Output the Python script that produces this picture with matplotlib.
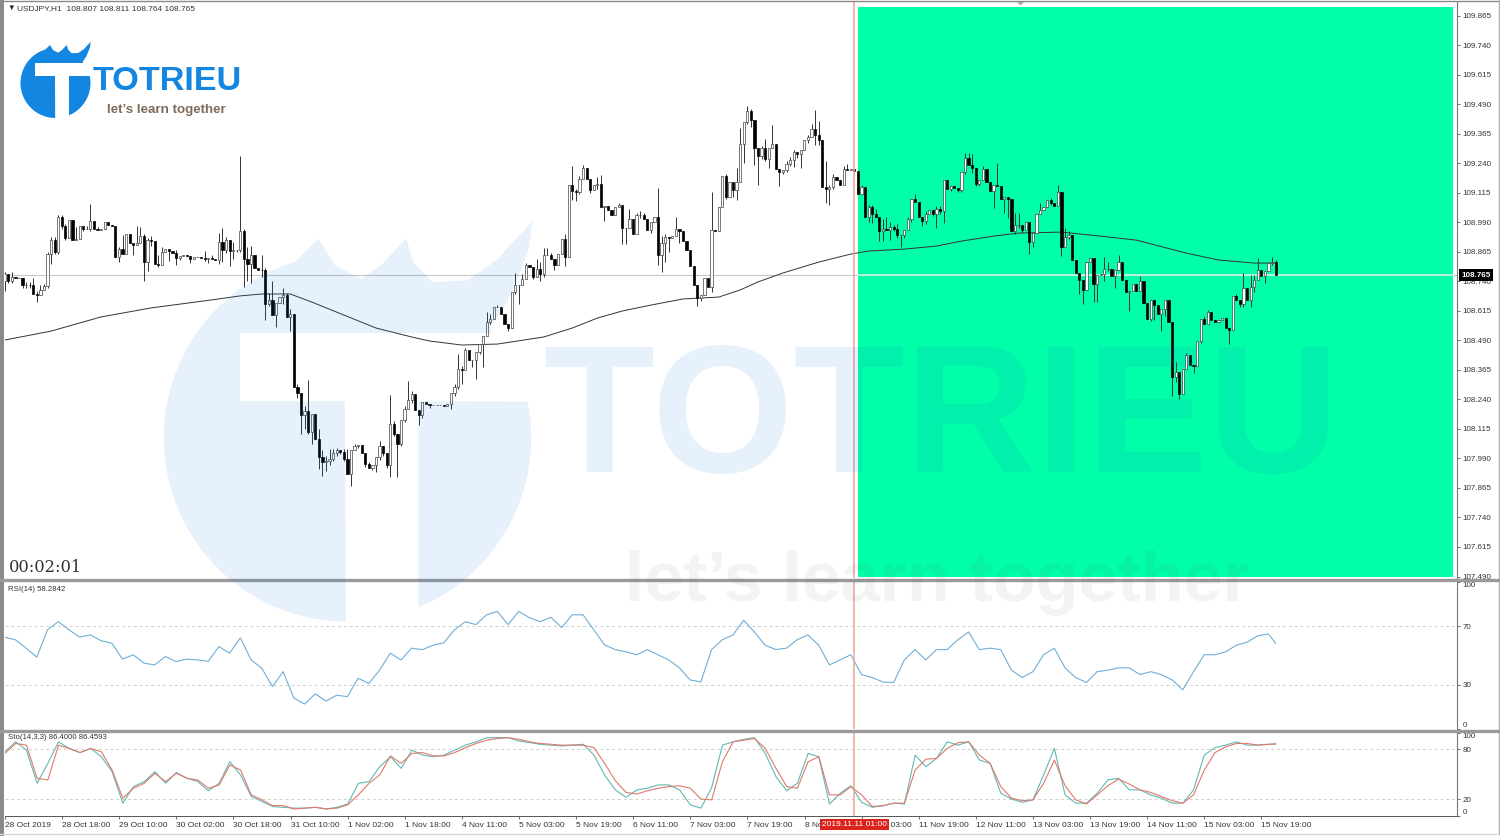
import numpy as np
import matplotlib
matplotlib.use('Agg')
import matplotlib.pyplot as plt
from matplotlib.patches import Polygon, Rectangle

plt.rcParams['font.family'] = ['Liberation Sans', 'DejaVu Sans']
plt.rcParams['font.size'] = 6

W, H = 1500, 836

# hourly closes, one per bar
first_open = 108.740
closes = [
    108.769, 108.741, 108.758, 108.755, 108.753, 108.723, 108.726, 108.723, 108.688, 108.681,
    108.702, 108.720, 108.854, 108.916, 108.864, 109.012, 108.973, 108.925, 109.001, 108.916,
    108.919, 108.975, 108.963, 108.963, 108.995, 108.961, 108.958, 108.961, 108.989, 108.977,
    108.975, 108.843, 108.877, 108.857, 108.939, 108.902, 108.892, 108.903, 108.930, 108.822,
    108.913, 108.910, 108.812, 108.809, 108.863, 108.875, 108.867, 108.861, 108.840, 108.848,
    108.850, 108.848, 108.836, 108.843, 108.843, 108.840, 108.836, 108.840, 108.836, 108.832,
    108.906, 108.871, 108.916, 108.866, 108.874, 108.874, 108.952, 108.835, 108.811, 108.850,
    108.797, 108.789, 108.786, 108.645, 108.662, 108.596, 108.648, 108.673, 108.680, 108.589,
    108.603, 108.293, 108.267, 108.173, 108.191, 108.102, 108.180, 108.074, 107.997, 107.975,
    107.980, 107.989, 108.011, 108.025, 108.018, 107.989, 107.923, 108.025, 108.042, 108.046,
    108.013, 107.965, 107.951, 107.961, 107.994, 108.042, 108.011, 107.961, 108.137, 108.095,
    108.053, 108.152, 108.201, 108.236, 108.264, 108.194, 108.173, 108.229, 108.219, 108.215,
    108.215, 108.215, 108.215, 108.211, 108.220, 108.265, 108.293, 108.370, 108.363, 108.448,
    108.406, 108.408, 108.441, 108.476, 108.507, 108.568, 108.582, 108.631, 108.631, 108.603,
    108.561, 108.540, 108.695, 108.723, 108.723, 108.751, 108.808, 108.800, 108.758, 108.793,
    108.769, 108.850, 108.850, 108.836, 108.808, 108.854, 108.920, 108.843, 109.146, 109.122,
    109.118, 109.174, 109.221, 109.174, 109.125, 109.149, 109.150, 109.054, 109.057, 109.040,
    109.019, 109.054, 109.061, 108.967, 108.967, 109.005, 108.941, 109.019, 109.019, 109.005,
    108.956, 108.991, 109.013, 108.850, 108.900, 108.928, 108.925, 108.931, 108.963, 108.953,
    108.911, 108.871, 108.804, 108.723, 108.667, 108.681, 108.752, 108.716, 108.956, 108.953,
    109.055, 109.185, 109.097, 109.161, 109.125, 109.161, 109.320, 109.414, 109.461, 109.421,
    109.302, 109.269, 109.302, 109.259, 109.302, 109.323, 109.217, 109.203, 109.213, 109.238,
    109.255, 109.287, 109.280, 109.294, 109.337, 109.351, 109.386, 109.358, 109.337, 109.137,
    109.132, 109.139, 109.182, 109.170, 109.146, 109.217, 109.210, 109.217, 109.207, 109.108,
    109.139, 109.012, 109.054, 109.026, 109.012, 108.951, 108.963, 108.955, 108.970, 108.963,
    108.934, 108.934, 108.955, 109.002, 109.089, 109.075, 109.012, 108.994, 109.026, 109.040,
    109.026, 109.047, 109.036, 109.167, 109.132, 109.143, 109.135, 109.127, 109.202, 109.261,
    109.230, 109.219, 109.153, 109.167, 109.216, 109.160, 109.120, 109.149, 109.143, 109.089,
    109.096, 109.089, 108.951, 108.977, 108.977, 108.955, 108.991, 108.906, 108.946, 109.026,
    109.040, 109.054, 109.082, 109.072, 109.058, 109.118, 108.885, 108.927, 108.934, 108.829,
    108.776, 108.744, 108.704, 108.821, 108.840, 108.730, 108.765, 108.769, 108.793, 108.793,
    108.761, 108.789, 108.821, 108.747, 108.694, 108.699, 108.727, 108.699, 108.741, 108.648,
    108.582, 108.659, 108.638, 108.600, 108.624, 108.659, 108.568, 108.335, 108.356, 108.262,
    108.370, 108.427, 108.384, 108.380, 108.487, 108.582, 108.560, 108.610, 108.575, 108.568,
    108.575, 108.586, 108.544, 108.535, 108.676, 108.659, 108.642, 108.713, 108.662, 108.716,
    108.747, 108.789, 108.761, 108.783, 108.817, 108.821, 108.765,
]

# wick lengths beyond the body, in 0.01 yen
upper_wicks = [
    1, 0, 2, 0, 0, 0, 1, 1, 3, 1, 2, 1, 1, 1, 1, 1, 1, 1, 0, 0,
    5, 0, 0, 1, 7, 0, 1, 0, 0, 0, 0, 0, 1, 6, 0, 0, 0, 7, 4, 1,
    1, 2, 0, 4, 2, 0, 0, 0, 1, 0, 0, 0, 0, 0, 0, 0, 3, 0, 1, 0,
    4, 6, 1, 0, 3, 0, 32, 1, 5, 4, 0, 0, 6, 1, 3, 8, 0, 0, 3, 1,
    2, 0, 1, 0, 2, 13, 0, 0, 4, 3, 2, 4, 2, 1, 0, 1, 4, 0, 1, 0,
    0, 0, 1, 0, 0, 2, 0, 0, 12, 1, 0, 0, 1, 8, 1, 0, 0, 0, 0, 0,
    0, 0, 0, 0, 0, 0, 1, 6, 1, 1, 0, 0, 0, 0, 0, 4, 2, 0, 1, 0,
    0, 0, 0, 5, 0, 2, 1, 0, 0, 4, 3, 3, 3, 1, 0, 0, 0, 2, 0, 8,
    1, 1, 1, 0, 0, 0, 3, 4, 0, 0, 0, 0, 1, 0, 0, 4, 0, 1, 2, 1,
    0, 0, 0, 12, 3, 1, 0, 0, 5, 0, 0, 0, 0, 0, 0, 0, 0, 0, 16, 0,
    0, 0, 1, 0, 0, 6, 7, 0, 2, 1, 0, 0, 1, 4, 0, 8, 0, 0, 0, 1,
    1, 1, 0, 0, 0, 1, 2, 8, 6, 0, 11, 1, 1, 0, 0, 1, 2, 0, 0, 0,
    1, 0, 1, 1, 2, 0, 4, 5, 2, 1, 2, 0, 0, 1, 0, 2, 0, 0, 1, 0,
    0, 1, 1, 0, 0, 0, 0, 0, 0, 2, 2, 5, 0, 0, 1, 0, 0, 0, 9, 0,
    0, 0, 0, 5, 5, 0, 0, 0, 0, 0, 3, 0, 0, 1, 0, 3, 0, 4, 2, 0,
    0, 0, 0, 0, 0, 0, 0, 0, 5, 3, 0, 0, 3, 0, 0, 0, 0, 0, 2, 0,
    0, 0, 0, 0, 0, 0, 0, 0, 4, 0, 0, 1, 0, 0, 0, 0, 1, 1, 0, 0,
    0, 0, 0, 0, 0, 1, 0, 6, 0, 5, 2, 5, 0, 0, 0, 2, 1,
]
lower_wicks = [
    4, 1, 1, 0, 0, 1, 1, 1, 0, 3, 0, 0, 1, 4, 1, 1, 1, 1, 0, 0,
    0, 0, 1, 0, 1, 0, 0, 0, 0, 0, 0, 0, 2, 0, 0, 0, 4, 0, 0, 8,
    4, 2, 0, 1, 0, 0, 4, 0, 3, 1, 0, 0, 2, 0, 0, 0, 1, 2, 0, 0,
    2, 5, 1, 6, 3, 1, 1, 12, 7, 8, 0, 0, 3, 7, 1, 0, 5, 0, 3, 0,
    6, 0, 2, 8, 6, 1, 5, 0, 5, 6, 4, 2, 1, 1, 1, 1, 0, 5, 0, 1,
    0, 1, 0, 1, 3, 1, 1, 1, 5, 1, 14, 1, 1, 0, 1, 0, 4, 1, 0, 1,
    0, 0, 0, 0, 0, 2, 1, 1, 6, 0, 0, 3, 8, 1, 10, 0, 1, 0, 0, 0,
    0, 1, 0, 1, 8, 0, 0, 0, 1, 0, 3, 1, 0, 0, 2, 0, 0, 4, 0, 4,
    4, 1, 0, 0, 1, 0, 2, 0, 6, 0, 0, 0, 0, 7, 7, 0, 0, 0, 1, 0,
    0, 1, 0, 4, 7, 8, 6, 0, 0, 5, 0, 0, 0, 0, 3, 1, 0, 0, 2, 0,
    0, 0, 1, 0, 3, 4, 0, 8, 1, 3, 7, 12, 1, 1, 4, 0, 0, 6, 1, 1,
    1, 3, 2, 6, 0, 1, 0, 4, 2, 0, 6, 7, 1, 0, 0, 0, 0, 0, 0, 0,
    0, 0, 2, 4, 0, 4, 4, 0, 4, 1, 1, 5, 1, 0, 1, 0, 0, 2, 1, 0,
    1, 6, 1, 5, 0, 1, 0, 1, 1, 1, 0, 2, 1, 1, 0, 0, 0, 7, 0, 0,
    6, 8, 0, 1, 1, 1, 0, 5, 2, 0, 0, 0, 0, 1, 0, 0, 4, 0, 1, 0,
    0, 6, 6, 0, 0, 8, 8, 0, 3, 1, 0, 5, 0, 0, 0, 8, 0, 0, 0, 0,
    0, 1, 6, 0, 7, 3, 0, 8, 2, 2, 0, 0, 0, 3, 0, 1, 0, 0, 0, 0,
    0, 0, 0, 6, 0, 0, 1, 1, 0, 3, 2, 0, 0, 3, 0, 1, 0,
]

# 200 period average, read at a few bars
ma_bars = [0, 13, 27, 41, 58, 66, 72, 80, 86, 95, 104, 114, 119, 128, 138, 151, 159, 166, 173, 181,
           190, 200, 206, 211, 218, 228, 237, 242, 252, 261, 268, 277, 284, 296, 307, 317, 331, 340, 350, 356]
ma_values = [108.491, 108.529, 108.589, 108.627, 108.661, 108.678, 108.686, 108.686, 108.652, 108.597,
             108.542, 108.504, 108.487, 108.470, 108.474, 108.504, 108.542, 108.584, 108.614, 108.639,
             108.665, 108.673, 108.703, 108.737, 108.775, 108.821, 108.855, 108.868, 108.876, 108.889,
             108.910, 108.931, 108.944, 108.948, 108.931, 108.914, 108.859, 108.830, 108.817, 108.817]

# indicators, one reading every 3 bars, last one at the final bar
rsi_values = [62.5, 60.7, 55, 48.9, 67.5, 73, 67.5, 62.5, 64, 60, 58.4, 47.5, 50.5, 44.8, 43.6, 49.3, 45.9, 47.5, 47, 46,
              56, 51.6, 62, 47, 41.4, 28.9, 39, 21, 17, 23.9, 19, 23, 22, 34.5, 31, 40, 51.6, 47,
              55, 54, 57, 58.6, 67.5, 73, 71, 77.7, 80, 71, 80, 75.7, 73, 76, 69, 77.7, 77.7, 67.5, 57.3, 54,
              52.5, 50.5, 54, 50.5, 47, 41.6, 33.4, 32, 54, 60.7, 64, 74, 66, 57, 54, 55, 60.7, 64, 57, 43.6,
              47, 50.5, 37, 35, 32, 31.6, 47, 54, 47, 54, 54, 60.7, 66, 54, 55, 54, 40, 35, 39, 50.5,
              55, 41.6, 35, 31.6, 39, 40, 41.6, 41.6, 37, 39, 37, 33.4, 26.6, 39, 50.5, 50.5, 52.5, 57, 59,
              63.4, 64.7, 58.28]
stoch_main = [77, 89, 79, 39, 63, 89, 81, 76, 81, 71, 53, 15, 35, 41, 53, 39, 52, 45, 41, 30,
              39, 65, 49, 23, 17, 11, 10, 9, 9, 10, 8, 10, 14, 39, 41, 59, 71, 57,
              79, 73, 71, 73, 79, 85, 89, 94, 94, 94, 90, 88, 86, 85, 84, 85, 86, 73, 49, 31,
              22, 31, 33, 37, 37, 31, 13, 9, 34, 85, 89, 92, 94, 75, 47, 30, 39, 75, 71, 14,
              27, 36, 16, 10, 12, 15, 14, 73, 59, 69, 89, 85, 89, 67, 63, 27, 20, 16, 19, 49,
              81, 25, 15, 15, 27, 43, 45, 31, 31, 25, 21, 15, 15, 31, 73, 82, 85, 89, 85,
              85, 86, 86.4]
stoch_signal = [75, 87, 85, 45, 43, 85, 81, 76, 81, 77, 55, 21, 33, 39, 51, 41, 51, 45, 43, 33,
                37, 61, 55, 25, 19, 12, 12, 8, 9, 10, 8, 9, 13, 25, 39, 49, 72, 63,
                75, 76, 72, 72, 76, 82, 87, 91, 93, 94, 92, 89, 87, 86, 85, 85, 85, 82, 63, 42,
                28, 26, 30, 33, 35, 36, 33, 20, 19, 65, 89, 91, 93, 81, 57, 35, 33, 65, 71, 25,
                25, 35, 25, 11, 12, 15, 15, 55, 68, 69, 81, 88, 89, 73, 63, 35, 21, 18, 19, 39,
                67, 36, 19, 14, 25, 36, 44, 38, 31, 28, 23, 18, 15, 25, 55, 76, 83, 87, 87,
                85, 86, 86.46]

time_labels = ['28 Oct 2019', '28 Oct 18:00', '29 Oct 10:00', '30 Oct 02:00', '30 Oct 18:00', '31 Oct 10:00',
               '1 Nov 02:00', '1 Nov 18:00', '4 Nov 11:00', '5 Nov 03:00', '5 Nov 19:00', '6 Nov 11:00',
               '7 Nov 03:00', '7 Nov 19:00', '8 Nov 11:00', '11 Nov 03:00', '11 Nov 19:00', '12 Nov 11:00',
               '13 Nov 03:00', '13 Nov 19:00', '14 Nov 11:00', '15 Nov 03:00', '15 Nov 19:00']
price_ticks = [107.490 + 0.125 * k for k in range(20)]
last_price = 108.765
crosshair_bar = 238
box_start, box_end = 239.0, 405.8
box_low, box_high = 107.490, 109.902

closes = np.array(closes)
bars = np.arange(len(closes))
opens = np.r_[first_open, closes[:-1]]
body_low = np.minimum(opens, closes)
body_top = np.maximum(opens, closes)
highs = body_top + np.array(upper_wicks) * 0.01
lows = body_low - np.array(lower_wicks) * 0.01


def px_axes(left, top, right, bottom):
    return fig.add_axes([left / W, 1 - bottom / H, (right - left) / W, (bottom - top) / H])


def indicator_x(values):
    return np.r_[np.arange(len(values) - 1) * 3, 356]


fig = plt.figure(figsize=(W / 100, H / 100), dpi=100, facecolor='white')
bar_px = 3.57
xlim = ((5 - 4.7) / bar_px, (1457 - 4.7) / bar_px)

# main panel
ax = px_axes(5, 2, 1457, 578)
slope = 2.375 / 561
ax.set_xlim(xlim)
ax.set_ylim(107.490 - 1.5 * slope, 109.865 + 13.5 * slope)
ax.add_patch(Rectangle((box_start, box_low), box_end - box_start, box_high - box_low,
                       facecolor='#00ffa8', edgecolor='none', zorder=1))
ax.axhline(last_price, color='#c8c8c8', lw=0.8, zorder=1.5)
ax.plot([box_start, box_end], [last_price, last_price], color='#c4f8e2', lw=1.2, zorder=1.6)
ax.plot(ma_bars, ma_values, color='#333333', lw=0.7, zorder=2)
ax.vlines(bars, lows, highs, color='#333333', lw=0.7, zorder=3)
bull = closes >= opens
ax.bar(bars[bull], (closes - opens)[bull], bottom=opens[bull], width=0.62, lw=0.5,
       edgecolor='#444444', color='white', zorder=4)
ax.bar(bars[~bull], (closes - opens)[~bull], bottom=opens[~bull], width=0.62, lw=0.5,
       edgecolor='black', color='black', zorder=4)
ax.axvline(crosshair_bar, color='#eba596', lw=1.1, zorder=5)

# indicator panels
ax_rsi = px_axes(5, 582, 1457, 729)
ax_rsi.set_xlim(xlim)
ax_rsi.set_ylim(0, 100)
for level in (70, 30):
    ax_rsi.axhline(level, color='#cfcfcf', lw=0.7, ls=(0, (3, 3)))
ax_rsi.plot(indicator_x(rsi_values), rsi_values, color='#70aed6', lw=0.8)
ax_rsi.axvline(crosshair_bar, color='#eba596', lw=1.1)

ax_sto = px_axes(5, 732.7, 1457, 815.6)
ax_sto.set_xlim(xlim)
ax_sto.set_ylim(0, 100)
for level in (80, 20):
    ax_sto.axhline(level, color='#cfcfcf', lw=0.7, ls=(0, (3, 3)))
ax_sto.plot(indicator_x(stoch_main), stoch_main, color='#62b8b4', lw=0.8)
ax_sto.plot(indicator_x(stoch_signal), stoch_signal, color='#e0796a', lw=0.8)
ax_sto.axvline(crosshair_bar, color='#eba596', lw=1.1)

for a in (ax, ax_rsi, ax_sto):
    for name in ('top', 'left', 'bottom'):
        a.spines[name].set_visible(False)
    a.spines['right'].set_color('#777777')
    a.spines['right'].set_linewidth(0.8)
    a.set_xticks([])
    a.yaxis.tick_right()
    a.tick_params(axis='y', length=2.5, width=0.6, color='#555555', labelcolor='#333333', pad=1.5, labelsize=5.8)

ax.set_yticks(price_ticks)
ax.set_yticklabels([f'{p:.3f}' for p in price_ticks])

for a, levels in ((ax_rsi, (100, 70, 30, 0)), (ax_sto, (100, 80, 20, 0))):
    a.set_yticks(levels)
    a.set_yticklabels([str(v) for v in levels])
labels = ax_rsi.get_yticklabels()
labels[0].set_verticalalignment('top')
labels[-1].set_verticalalignment('bottom')
labels = ax_sto.get_yticklabels()
labels[0].set_verticalalignment('top')
labels[-1].set_verticalalignment('bottom')

ax_sto.spines['bottom'].set_visible(True)
ax_sto.spines['bottom'].set_color('#555555')
ax_sto.spines['bottom'].set_linewidth(0.7)
ax_sto.set_xticks(np.arange(len(time_labels)) * 16)
ax_sto.set_xticklabels(time_labels, ha='left')
ax_sto.tick_params(axis='x', length=2.5, width=0.6, color='#555555', labelcolor='#333333', pad=2, labelsize=6)

ax_sto.text(crosshair_bar, -0.105, '2019.11.11 01:00', transform=ax_sto.get_xaxis_transform(), ha='center', va='center',
            fontsize=6, color='white', zorder=20, clip_on=False,
            bbox=dict(boxstyle='square,pad=0.25', facecolor='#d9231c', edgecolor='none'))
ax.text(1.0032, last_price, f'{last_price:.3f}', transform=ax.get_yaxis_transform(), ha='left', va='center',
        fontsize=5.8, color='white', fontweight='bold', zorder=20, clip_on=False,
        bbox=dict(boxstyle='square,pad=0.3', facecolor='black', edgecolor='none'))

ax.text(0.0015, 0.9945, '▼', transform=ax.transAxes, fontsize=5.5, color='#222222', va='top')
ax.text(0.0085, 0.9945, 'USDJPY,H1  108.807 108.811 108.764 108.765', transform=ax.transAxes,
        fontsize=6, color='#333333', va='top')
ax.text(0.0028, 0.004, '00:02:01', transform=ax.transAxes, fontsize=11.7,
        family=['DejaVu Serif'], color='#333333', va='bottom')
ax_rsi.text(0.0022, 0.97, 'RSI(14) 58.2842', transform=ax_rsi.transAxes, fontsize=5.6, color='#333333', va='top')
ax_sto.text(0.0022, 0.98, 'Sto(14,3,3) 86.4000 86.4593', transform=ax_sto.transAxes, fontsize=5.6, color='#333333', va='top')

# overlay in pixels: frame, separators, logo and watermark
ov = fig.add_axes([0, 0, 1, 1], facecolor='none')
ov.set_xlim(0, W)
ov.set_ylim(H, 0)
ov.axis('off')
ov.fill_between([0, 4], 0, H, color='#8a8a8a', lw=0, zorder=1)
ov.plot([0, W], [1, 1], color='#8a8a8a', lw=1, zorder=1)
ov.plot([1498.5, 1498.5], [0, 834], color='#b0b0b0', lw=1, zorder=1)
ov.plot([0, W], [834, 834], color='#d8d8d8', lw=1, zorder=1)
ov.plot([0, W], [579.5, 579.5], color='#9a9a9a', lw=2.4, zorder=1)
ov.plot([0, W], [730.5, 730.5], color='#9a9a9a', lw=2.4, zorder=1)
ov.fill([1017, 1024, 1020.5], [2, 2, 5.5], color='#a8a8a8', lw=0, zorder=1)


def logo_pieces(cx, cy, s):
    # outline measured from the small logo at the top left
    c0, r = (55.5, 83.0), 35.0
    t1 = np.linspace(1.58, 4.42, 60)
    arc1 = np.c_[c0[0] + r * np.cos(t1), c0[1] + r * np.sin(t1)]
    flames = [(50, 45), (53, 50), (58, 52.7), (62, 50), (66.7, 45), (68, 49.5), (71.7, 53.3), (78.3, 53), (84, 49),
              (90.7, 41.7), (90, 47), (88.3, 51.7), (86, 57), (82.7, 61.7), (83, 63)]
    piece1 = [(35, 63), (35, 76), (55, 76)] + [tuple(p) for p in arc1] + flames
    t2 = np.linspace(-0.2, 1.175, 30)
    piece2 = [(69, 76)] + [(c0[0] + r * np.cos(t), c0[1] + r * np.sin(t)) for t in t2]
    out = []
    for piece in (piece1, piece2):
        p = np.array(piece)
        out.append(np.c_[cx + (p[:, 0] - c0[0]) * s, cy + (p[:, 1] - c0[1]) * s])
    return out


narrow = ['Liberation Sans', 'DejaVu Sans']
for pts in logo_pieces(347.5, 438, 5.25):
    ov.add_patch(Polygon(pts, closed=True, facecolor='#0a78d8', edgecolor='none', alpha=0.1, zorder=6))
ov.text(942, 425, 'TOTRIEU', fontsize=131, family=narrow, fontweight='bold', color='#0a78d8', alpha=0.1,
        ha='center', va='center', zorder=6)
ov.text(937, 583, 'let\u2019s learn together', fontsize=50.5, family=narrow, fontweight='bold', color='#555555',
        alpha=0.07, ha='center', va='center', zorder=6)

for pts in logo_pieces(55.5, 83, 1.0):
    ov.add_patch(Polygon(pts, closed=True, facecolor='#1286e0', edgecolor='none', zorder=8))
ov.text(167, 82, 'TOTRIEU', fontsize=24.7, family=narrow, fontweight='bold', color='#1286e0',
        ha='center', va='center', zorder=8)
ov.text(166, 110, 'let\u2019s learn together', fontsize=9.6, family=narrow, fontweight='bold', color='#7d6b5c',
        ha='center', va='center', zorder=8)

fig.savefig('out.png', dpi=100, facecolor='white')
